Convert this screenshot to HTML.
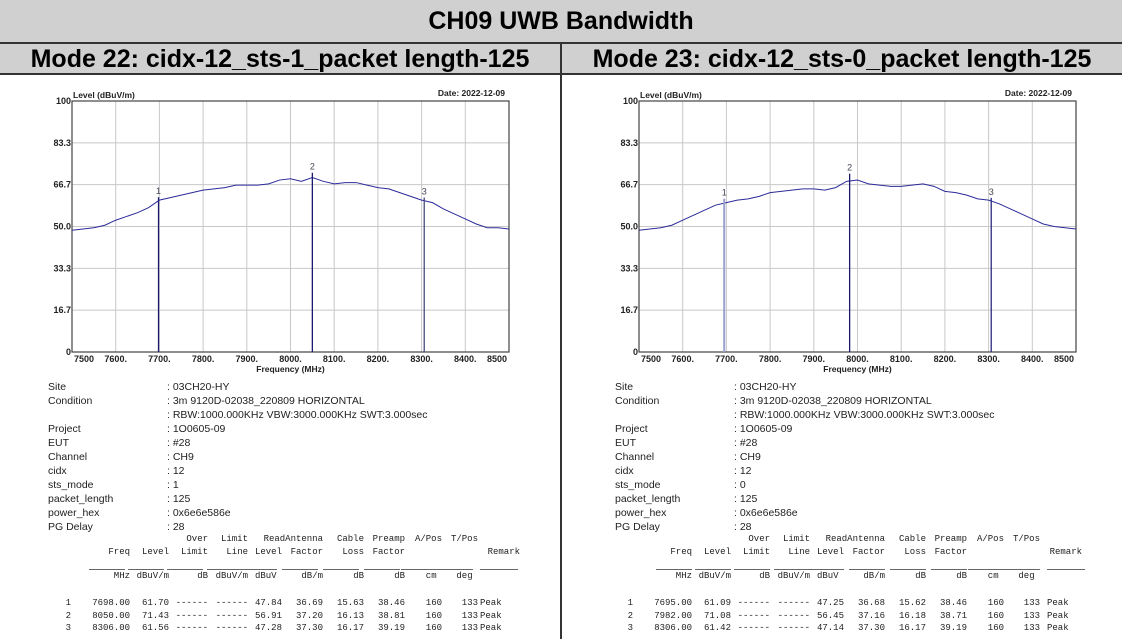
<!DOCTYPE html>
<html><head><meta charset="utf-8"><style>
*{margin:0;padding:0;box-sizing:border-box}
body{width:1122px;height:639px;background:#fff;position:relative;overflow:hidden;font-family:"Liberation Sans",sans-serif}
.bar{position:absolute;left:0;width:1122px;background:#d0d0d0;font-weight:bold;color:#000}
#title{top:0;height:44px;border-bottom:2px solid #333;text-align:center;font-size:25px;line-height:42px}
.mode{position:absolute;top:44px;height:31px;background:#d0d0d0;border-bottom:2px solid #333;font-weight:bold;font-size:25px;line-height:30px;text-align:center;color:#000}
#divider{position:absolute;left:560px;top:44px;width:2px;height:595px;background:#333}
.panel{position:absolute;top:0;height:639px}
.kv{position:absolute;font-size:10.5px;color:#222;white-space:nowrap}
.mono{position:absolute;font-family:"Liberation Mono",monospace;font-size:9px;color:#222;white-space:pre}
</style></head><body>
<div id="title" class="bar">CH09 UWB Bandwidth</div>
<div class="mode" style="left:0;width:560px">Mode 22: cidx-12_sts-1_packet length-125</div>
<div class="mode" style="left:562px;width:560px">Mode 23: cidx-12_sts-0_packet length-125</div>
<div id="divider"></div>
<div id="p0" class="panel" style="left:0;width:560px"></div>
<div id="p1" class="panel" style="left:567px;width:555px"></div>
<script>
const freqs=[7500,7525,7550,7575,7600,7625,7650,7675,7700,7725,7750,7775,7800,7825,7850,7875,7900,7925,7950,7975,8000,8025,8050,8075,8100,8125,8150,8175,8200,8225,8250,8275,8300,8325,8350,8375,8400,8425,8450,8475,8500];
const levels22=[48.5,49,49.5,50.5,52.5,54,55.5,57.5,60.5,61.5,62.5,63.5,64.5,65,65.5,66.5,66.5,66.5,67,68.5,69,68,69.5,68,67,67.5,67.5,66.5,65.5,65,63.5,62,60.5,59.5,57,55,53,51,49.5,49.5,49];
const levels23=[48.5,49,49.5,50.5,52.5,54.5,56.5,58.5,59.5,60.5,61,62,63.5,64,64.5,65,65,64.5,65.5,68,68.5,67,66.5,66,66,66.5,67,66,64,63.5,62.5,61,60.5,59,57,55,53,51,50,49.5,49];
const yTicks=[0,16.7,33.3,50.0,66.7,83.3,100];
const yTickLabels=["0","16.7","33.3","50.0","66.7","83.3","100"];
const xTicks=[7500,7600,7700,7800,7900,8000,8100,8200,8300,8400,8500];
const xTickLabels=["7500","7600.","7700.","7800.","7900.","8000.","8100.","8200.","8300.","8400.","8500"];
const mk22Freq=[7698,8050,8306];
const mk22Level=[61.70,71.43,61.56];
const mk23Freq=[7695,7982,8306];
const mk23Level=[61.09,71.08,61.42];
const tbl22=[["1","7698.00","61.70","------","------","47.84","36.69","15.63","38.46","160","133"],["2","8050.00","71.43","------","------","56.91","37.20","16.13","38.81","160","133"],["3","8306.00","61.56","------","------","47.28","37.30","16.17","39.19","160","133"]];
const tbl23=[["1","7695.00","61.09","------","------","47.25","36.68","15.62","38.46","160","133"],["2","7982.00","71.08","------","------","56.45","37.16","16.18","38.71","160","133"],["3","8306.00","61.42","------","------","47.14","37.30","16.17","39.19","160","133"]];
const NS="http://www.w3.org/2000/svg";
function mk(tag,attrs,parent){const e=document.createElementNS(NS,tag);for(const k in attrs)e.setAttribute(k,attrs[k]);parent.appendChild(e);return e;}
function build(pid,levels,mF,mL,tbl,sts,markerColors){
  const p=document.getElementById(pid);
  const L=72,R=509,T=101,B=352;
  const xs=f=>L+(f-7500)/1000*(R-L);
  const ys=v=>B-v/100*(B-T);
  const svg=mk('svg',{width:555,height:380,style:'position:absolute;left:0;top:0'},p);
  
  
  xTicks.forEach((f,i)=>{const l=mk('line',{x1:xs(f),x2:xs(f),y1:T,y2:B,stroke:'#c8c8c8','stroke-width':1},svg);
    
    const t=mk('text',{x:xs(f)+(i==0?12:i==10?-12:0),y:B+10,'text-anchor':'middle','font-size':9,'font-weight':'bold',fill:'#222'},svg);t.textContent=xTickLabels[i];
    });
  yTicks.forEach((v,i)=>{const l=mk('line',{x1:L,x2:R,y1:ys(v),y2:ys(v),stroke:'#c8c8c8','stroke-width':1},svg);
    
    const t=mk('text',{x:L-1,y:ys(v)+3,'text-anchor':'end','font-size':9,'font-weight':'bold',fill:'#222'},svg);t.textContent=yTickLabels[i];
    });
  const fr=mk('rect',{x:L,y:T,width:R-L,height:B-T,fill:'none',stroke:'#444','stroke-width':1.2},svg);
  
  const pl=mk('polyline',{points:freqs.map((f,i)=>xs(f)+','+ys(levels[i])).join(' '),fill:'none',stroke:'#2b2b9a','stroke-width':1},svg);
  
  mF.forEach((f,i)=>{const ln=mk('line',{x1:xs(f),x2:xs(f),y1:B,y2:ys(mL[i]),stroke:markerColors[i],'stroke-width':markerColors[i]=='#9aa0d0'?2:1.3},svg);
    
    const t=mk('text',{x:xs(f),y:ys(mL[i])-3,'text-anchor':'middle','font-size':9,fill:'#445'},svg);t.textContent=String(i+1);
    });
  let t=mk('text',{x:L+1,y:T-3,'font-size':8.5,'font-weight':'bold',fill:'#222'},svg);t.textContent='Level (dBuV/m)';
  
  t=mk('text',{x:R-4,y:T-5,'text-anchor':'end','font-size':8.5,'font-weight':'bold',fill:'#222'},svg);t.textContent='Date: 2022-12-09';
  
  t=mk('text',{x:(L+R)/2,y:B+20,'text-anchor':'middle','font-size':8.5,'font-weight':'bold',fill:'#222'},svg);t.textContent='Frequency (MHz)';
  
  const kvs=[["Site",": 03CH20-HY"],["Condition",": 3m 9120D-02038_220809 HORIZONTAL"],["",": RBW:1000.000KHz VBW:3000.000KHz SWT:3.000sec"],["Project",": 1O0605-09"],["EUT",": #28"],["Channel",": CH9"],["cidx",": 12"],["sts_mode",": "+sts],["packet_length",": 125"],["power_hex",": 0x6e6e586e"],["PG Delay",": 28"]];
  kvs.forEach((kv,i)=>{const y=381+i*14;
    if(kv[0]){const d=document.createElement('div');d.className='kv';d.style.left='48px';d.style.top=y+'px';d.textContent=kv[0];
      p.appendChild(d);}
    const d=document.createElement('div');d.className='kv';d.style.left='167px';d.style.top=y+'px';d.textContent=kv[1];
    p.appendChild(d);});
  const colR=[125,164,203,243,277,318,359,400,437,473];
  const h1=["","","Over","Limit","ReadAntenna","","Cable","Preamp","A/Pos","T/Pos"];
  const h2=["Freq","Level","Limit","Line","Level","Factor","Loss","Factor","",""];
  const un=["MHz","dBuV/m","dB","dBuV/m","dBuV ","dB/m","dB","dB","cm ","deg "];
  function put(txt,right,y,name){if(!txt)return;const d=document.createElement('div');d.className='mono';d.style.top=y+'px';d.style.right=(555-right)+'px';d.textContent=txt;
    p.appendChild(d);}
  colR.forEach((r,i)=>{put(h1[i],i==4?318:r,534,'table-header');put(h2[i],r,547,'table-header');put(un[i],r,571,'table-unit');
    const u=document.createElement('div');u.style.cssText='position:absolute;top:569px;height:1px;background:#666;left:'+(r-36)+'px;width:36px';
    p.appendChild(u);});
  put("Remark",515,547,'table-header');
  const u=document.createElement('div');u.style.cssText='position:absolute;top:569px;height:1px;background:#666;left:480px;width:38px';
  p.appendChild(u);
  tbl.forEach((row,j)=>{const y=598+j*12.5;put(row[0],66,y,'row-index');
    for(let i=1;i<row.length;i++)put(row[i],colR[i-1],y,'table-cell');
    const d=document.createElement('div');d.className='mono';d.style.left='480px';d.style.top=y+'px';d.textContent='Peak';
    p.appendChild(d);});
}
build('p0',levels22,mk22Freq,mk22Level,tbl22,'1',['#1a1a70','#1a1a70','#4a4a80']);
build('p1',levels23,mk23Freq,mk23Level,tbl23,'0',['#9aa0d0','#1a1a70','#2a2a80']);
</script>
</body></html>
